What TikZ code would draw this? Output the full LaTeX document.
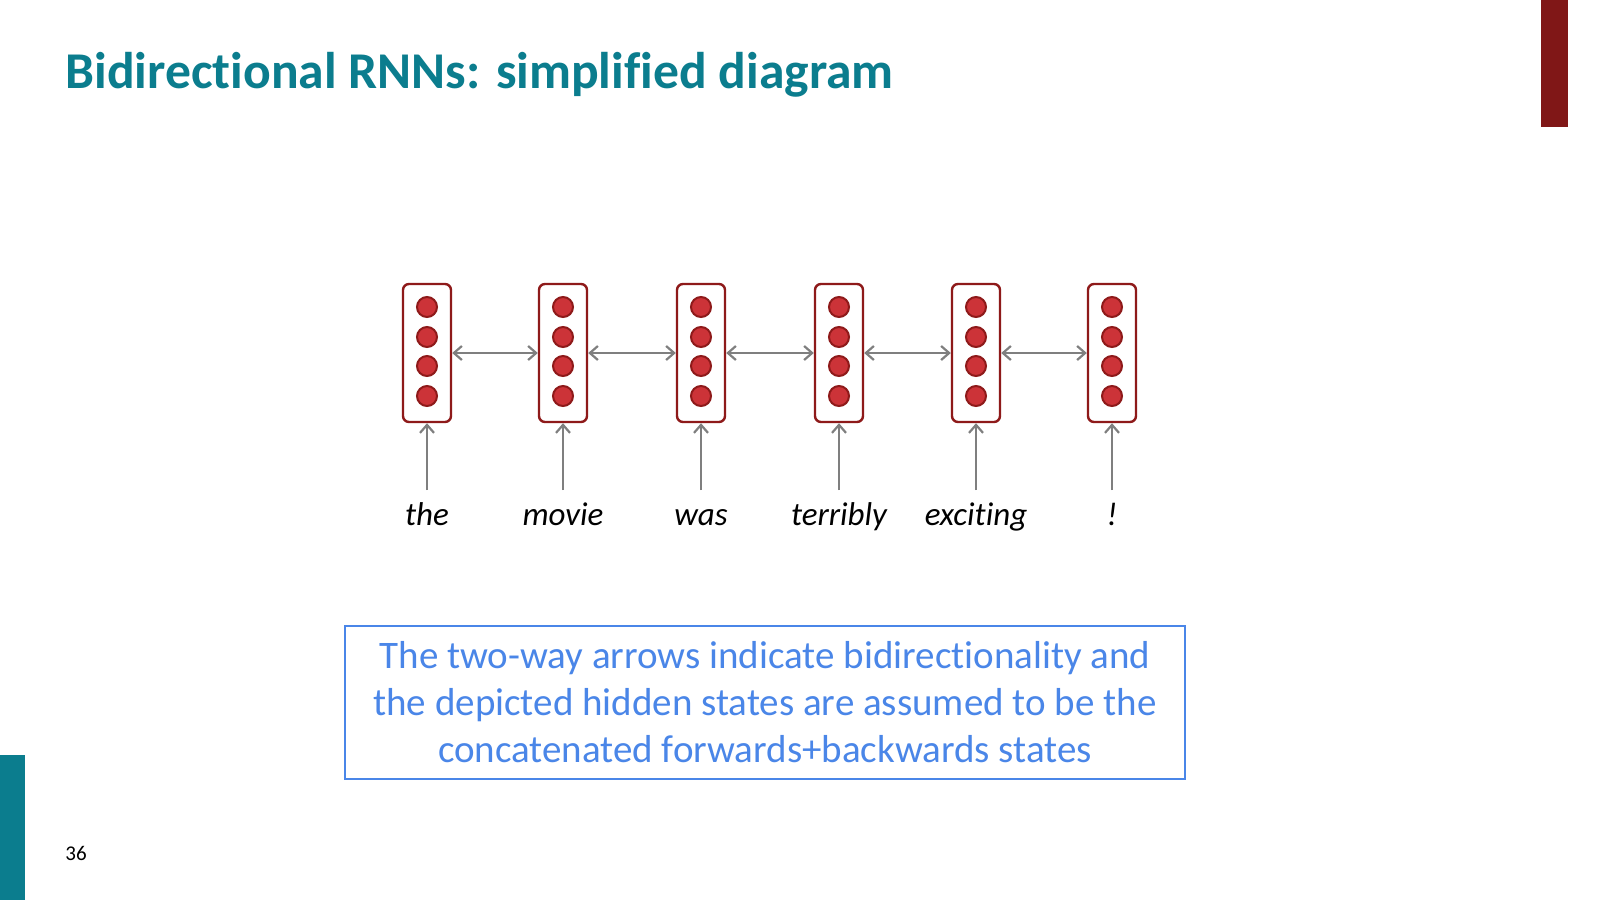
\documentclass[tikz,border=0pt]{standalone}
\usepackage{fontspec}
\usetikzlibrary{arrows.meta}
\setmainfont{Carlito}[Ligatures=NoCommon]
\definecolor{teal1}{HTML}{0B7D8E}
\definecolor{dred}{HTML}{8E1A1A}
\definecolor{cred}{HTML}{CC3338}
\definecolor{bl}{HTML}{4A86E8}
\definecolor{gr}{HTML}{7F7F7F}
\begin{document}
\begin{tikzpicture}[x=0.5pt,y=-0.5pt,
  cell/.style={draw=dred,line width=1.2pt,rounded corners=3pt,minimum width=24pt,minimum height=69pt,inner sep=0pt,fill=white},
  dot/.style={circle,draw=dred,fill=cred,line width=1pt,minimum size=10pt,inner sep=0pt},
  con/.style={draw=gr,line width=1.1pt,-{Straight Barb[length=4pt,width=7pt]}},
  word/.style={font=\itshape\fontsize{16.5}{20}\selectfont,anchor=base}]
\useasboundingbox (0,0) rectangle (1600,900);
\fill[white] (0,0) rectangle (1600,900);
\fill[dred!90!black] (1541,0) rectangle (1568,127);
\fill[teal1] (0,755) rectangle (25,900);
\node[anchor=base west,text=teal1,font=\bfseries\fontsize{25.8}{30}\selectfont,inner sep=0] (title) at (65,88) {Bidirectional RNNs: simplified diagram};
\node[anchor=base,font=\fontsize{10.5}{12}\selectfont,inner sep=0] (pg) at (76,860) {36};
\foreach \i/\x/\w in {1/427/the,2/563/movie,3/701/was,4/839/terribly,5/976/exciting,6/1112/!}{
  \node[cell] (c\i) at (\x,353) {};
  \foreach \j/\y in {1/307,2/337,3/366,4/396}{\node[dot] (d\i\j) at (\x,\y) {};}
  \node[word,inner sep=0] (w\i) at (\x,525) {\w};
  \coordinate (s\i) at (\x,490);
  \draw[con] (s\i) -- (c\i.south);
}
\foreach \a/\b in {1/2,2/3,3/4,4/5,5/6}{
  \draw[con,{Straight Barb[length=4pt,width=7pt]}-{Straight Barb[length=4pt,width=7pt]}] (c\a.east) -- (c\b.west);
}
\node[draw=bl,line width=1.2pt,text=bl,align=center,minimum width=420pt,minimum height=76.5pt,inner sep=0,
  font=\fontsize{19.5}{23.5}\selectfont] (note) at (765,702.5)
  {The two-way arrows indicate bidirectionality and\\the depicted hidden states are assumed to be the\\concatenated forwards+backwards states};
\end{tikzpicture}
\end{document}
